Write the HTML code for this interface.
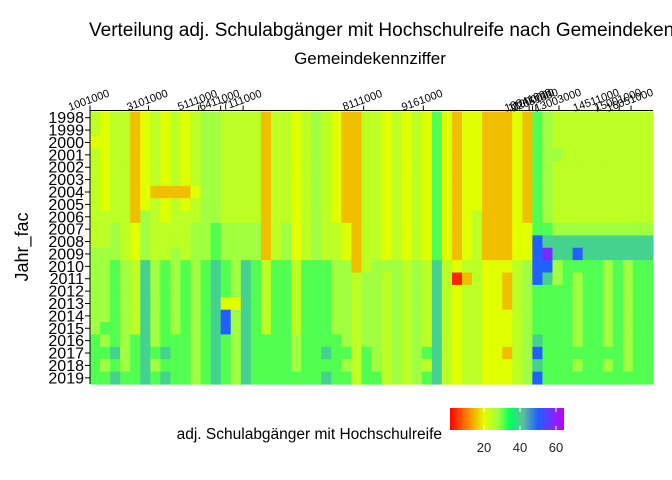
<!DOCTYPE html>
<html><head><meta charset="utf-8">
<style>
body{margin:0;background:#fff;}
svg{display:block;font-family:"Liberation Sans",sans-serif;}
</style></head>
<body>
<svg id="chart" width="672" height="480" viewBox="0 0 672 480" xmlns="http://www.w3.org/2000/svg">
  <defs>
    <linearGradient id="lg" x1="0" x2="1" y1="0" y2="0">
      <stop offset="0" stop-color="#ff0000"/>
      <stop offset="0.15" stop-color="#ff8000"/>
      <stop offset="0.30" stop-color="#e0ff00"/>
      <stop offset="0.42" stop-color="#a0ff40"/>
      <stop offset="0.53" stop-color="#00ff60"/>
      <stop offset="0.64" stop-color="#60c0a0"/>
      <stop offset="0.77" stop-color="#2060ff"/>
      <stop offset="1" stop-color="#c000ff"/>
    </linearGradient>
  </defs>
  <text x="89" y="36" font-size="19" fill="#000">Verteilung adj.  Schulabgänger mit Hochschulreife nach Gemeindekennziffer</text>
  <text x="370" y="64" font-size="17" text-anchor="middle" fill="#000">Gemeindekennziffer</text>
  <text x="0" y="0" font-size="18" text-anchor="middle" fill="#000" transform="translate(28,247) rotate(-90)">Jahr_fac</text>
  <g id="cells"></g>
  <g id="axes"></g>
  <g id="legend">
    <text x="442" y="439" font-size="15.5" text-anchor="end" fill="#000">adj. Schulabgänger mit Hochschulreife</text>
    <rect x="450" y="408" width="114" height="22" fill="url(#lg)"/>
  </g>
</svg>
<script>
const years = ["1998","1999","2000","2001","2002","2003","2004","2005","2006","2007","2008","2009","2010","2011","2012","2013","2014","2015","2016","2017","2018","2019"];
const codeValues = {r:3, o:15, y:20, l:24, g:27, G:31, t:40, b:50, p:58};
const cellRows = [
 "lyllo ylyly lggll lloll ylgly oolly lylyG yoyyo ooyoG gllll lllll l",
 "lyllo ylyly lggll lloll ylgly oolly lylyG yoyyo ooyoG gllll lllll l",
 "yyllo ylyly lggll lloll ylgly oolly lylyG yoyyo ooyoG gllll lllll l",
 "lyllo ylyly lggll lloll ylgly oolly lylyG yoyyo ooyoG gglll lllll l",
 "lyllo ylyly lggll lloll ylgly oolly lylyG yoyyo ooyoG gllll lllll l",
 "lyllo ylyly lggll lloll ylgly oolly lylyG yoyyo ooyoG gllll lllll l",
 "lyllo yoooo yggll lloll ylgly oolly lylyG yoyyo ooyoG gllll lllll l",
 "lyllo ylyly lggll lloll ylgly oolly lylyG yoyyo ooyoG gllll lllll l",
 "llllo glyll lggll lloll ylgly oolly lylyG yoylo ooyoG gllll lllll l",
 "llgly gllll ggGgg ggolg ylgll yolly lylyG yoylo ooyyG Ggggg ggggg g",
 "llgly gllll ggGgg ggolg ylgll yolly lylyG yoylo ooyyb ttttt ttttt t",
 "gggly gllgl ggGgg ggolg ylgll yolly lylyG yoylo ooyyb pttbt ttttt t",
 "ggGgl tgGgG gGtGg tGlGG lGGGg golgg glglt lylly yylgb bgGGG GgGgG G",
 "ggGgl tgGgG gGtGg tGlGG lGGGg glggl glglt lroly yolgb tgGgG GgGgG G",
 "ggGgl tgGgG gGtGg tGlGG lGGGg glggl glglt lylly yolgG GGGgG GgGgG G",
 "ggGgl tgGgG gGtyy tGlGG lGGGg glggl glglt lylly yolgG GGGgG GgGgG G",
 "ggGgl tgGgG gGtbg tGlGG lGGGg glggl glglt lylly yylgG GGGgG GgGgG G",
 "gGGgl tgGgG gGtbg tGlGG lGGGg glggl glglt lylly yylgG GGGgG GgGgG G",
 "GgGgG tgGGG gGtGg tGGGG gGGGG glggl glglt lylly yylgt GGGgG GgGgG G",
 "GGtgG tGtGG gGtGg tGGGG gGGtG GlGgl glgGt lylly yolgb GGGGG GGGgG G",
 "GgGgG tgGGG gGtGg tGGGG gGGGG glGgl glglt lylly yylgt GGGgG GgGgG G",
 "GGtGG tGtGG gGtGg tGGGG GGGtG GlGGl glgGt lylly yylgb GGGGG GGGGG G"
];
const xTickLabels = ["1001000","3101000","5111000","6411000","7111000","8111000","9161000","10041000","11000000","12051000","13003000","14511000","15001000","16051000"];
const xTickColumns = [0, 10.4, 19.3, 23.2, 27.2, 48.6, 59.2, 78.0, 78.6, 79.2, 83.3, 90.1, 94.0, 96.1];
const legendTicks = [20, 40, 60];

const NS = "http://www.w3.org/2000/svg";
const X0 = 90, X1 = 653, Y0 = 111.5, Y1 = 384;
const nCols = cellRows[0].replace(/ /g,"").length;
const xScale = c => X0 + (c / nCols) * (X1 - X0);
const xTickScale = c => X0 + (c / 100) * (X1 - X0);
const rowH = (Y1 - Y0) / years.length;
const yScale = i => Y0 + i * rowH;
const lx = v => 448 + v * 1.8;

const stops = [[0,[255,0,0]],[10,[255,128,0]],[20,[224,255,0]],[27,[160,255,64]],[35,[0,255,96]],[42,[96,192,160]],[50,[32,96,255]],[65,[192,0,255]]];
function colorOf(v){
  for(let i=0;i<stops.length-1;i++){
    const [a,ca]=stops[i],[b,cb]=stops[i+1];
    if(v<=b){const t=Math.max(0,(v-a)/(b-a));
      return "rgb("+ca.map((c,k)=>Math.round(c+(cb[k]-c)*t)).join(",")+")";}
  }
  return "rgb(192,0,255)";
}
function mk(tag, attrs){const e=document.createElementNS(NS,tag);for(const k in attrs)e.setAttribute(k,attrs[k]);return e;}

const cells = document.getElementById("cells");
cellRows.forEach((row, ri) => {
  const codes = row.replace(/ /g,"");
  for (let c = 0; c < codes.length; c++) {
    const v = codeValues[codes[c]];
    const r = mk("rect", {x: xScale(c), y: yScale(ri), width: xScale(c+1)-xScale(c)+0.6, height: rowH+0.6, fill: colorOf(v)});
    
    
    cells.appendChild(r);
  }
});

const axes = document.getElementById("axes");
const yl = mk("line",{x1:X0,x2:X0,y1:Y0-1,y2:Y1,stroke:"#000","stroke-width":1});


axes.appendChild(yl);
const xl = mk("line",{x1:X0,x2:X1,y1:Y0-1,y2:Y0-1,stroke:"#000","stroke-width":1});


axes.appendChild(xl);
years.forEach((yr, i) => {
  const cy = yScale(i) + rowH/2;
  const tk = mk("line",{x1:X0-5,x2:X0,y1:cy,y2:cy,stroke:"#000"});
  
  
  axes.appendChild(tk);
  const t = mk("text",{x:X0-6,y:cy+5.5,"font-size":16,"text-anchor":"end",fill:"#000"});
  
  
  t.textContent = yr;
  axes.appendChild(t);
});
xTickLabels.forEach((lab, i) => {
  const x = xTickScale(xTickColumns[i]);
  const tk = mk("line",{x1:x,x2:x,y1:Y0-6,y2:Y0-1,stroke:"#000"});
  
  
  axes.appendChild(tk);
  const t = mk("text",{x:0,y:0,"font-size":11,"text-anchor":"middle",fill:"#000",transform:"translate("+x+","+(Y0-8)+") rotate(-20)"});
  
  
  t.textContent = lab;
  axes.appendChild(t);
});

const legend = document.getElementById("legend");
legendTicks.forEach(v => {
  const x = lx(v);
  const a = mk("line",{x1:x,x2:x,y1:408,y2:412,stroke:"#fff"});
  
  
  legend.appendChild(a);
  const b = mk("line",{x1:x,x2:x,y1:426,y2:430,stroke:"#fff"});
  
  
  legend.appendChild(b);
  const t = mk("text",{x:x,y:452,"font-size":13,"text-anchor":"middle",fill:"#222"});
  
  
  t.textContent = v;
  legend.appendChild(t);
});
</script>
</body></html>
